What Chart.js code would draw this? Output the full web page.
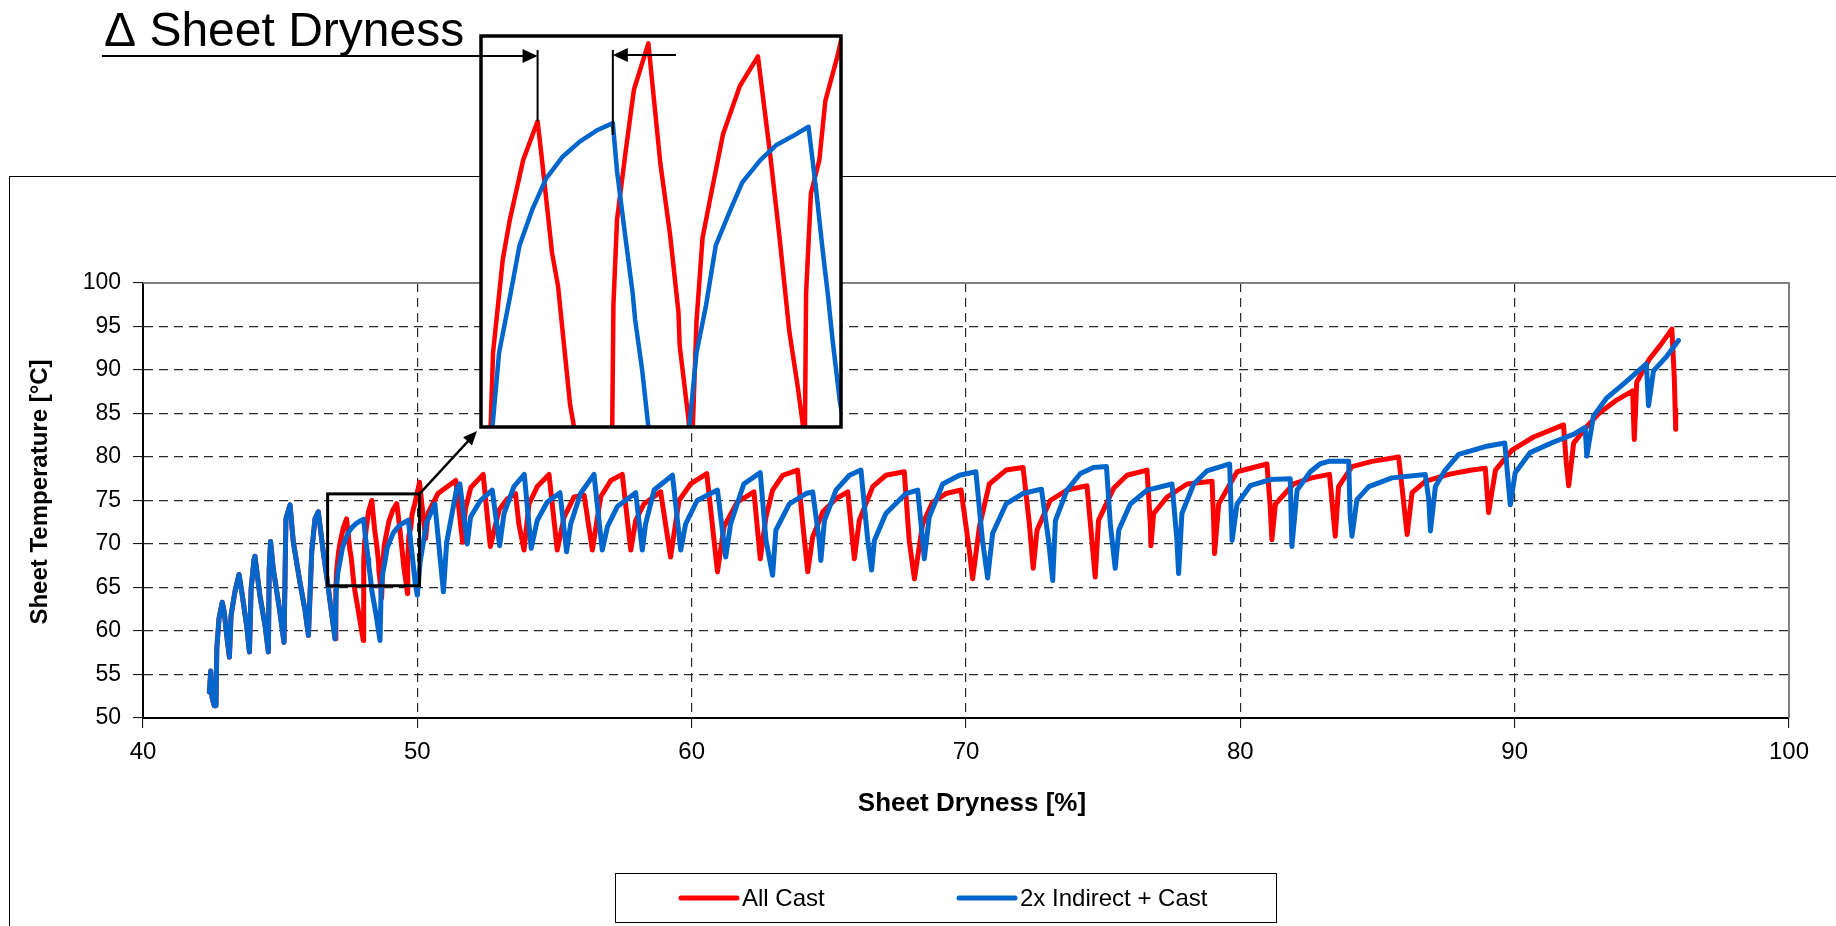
<!DOCTYPE html>
<html>
<head>
<meta charset="utf-8">
<title>Sheet Temperature vs Sheet Dryness</title>
<script src="https://cdn.jsdelivr.net/npm/chart.js@4.4.1/dist/chart.umd.min.js"></script>
<style>
  html, body { margin: 0; padding: 0; background: #fff; }
  #wrap { position: relative; width: 1836px; height: 926px; overflow: hidden; }
  #wrap canvas { position: absolute; left: 0; top: 0; }
</style>
</head>
<body>
<div id="wrap">
  <canvas id="mainChart" width="1836" height="926"></canvas>
  <canvas id="zoomChart" width="1836" height="926"></canvas>
</div>
<script>
// axis ticks
const drynessTicks = [40, 50, 60, 70, 80, 90, 100];
const tempTicks = [50, 55, 60, 65, 70, 75, 80, 85, 90, 95, 100];

// [sheet dryness %, sheet temperature °C] - both runs follow the same path at first
const bothStart = [
  [42.42, 53.0], [42.47, 55.4], [42.52, 52.3], [42.6, 51.4], [42.66, 51.4], [42.69, 58.0],
  [42.77, 61.4], [42.89, 63.3], [42.96, 62.2], [43.05, 59.5], [43.15, 57.0], [43.21, 61.8],
  [43.35, 64.5], [43.5, 66.5], [43.6, 64.5], [43.78, 60.6], [43.88, 57.6], [43.94, 64.8],
  [44.05, 68.3], [44.08, 68.6], [44.26, 64.1], [44.45, 60.6], [44.57, 57.6], [44.6, 67.1],
  [44.65, 70.3], [44.75, 67.1], [44.99, 62.2], [45.14, 58.7], [45.21, 72.9], [45.36, 74.5],
  [45.48, 70.2], [45.72, 65.6], [45.9, 62.5], [46.03, 59.5], [46.15, 69.1], [46.27, 72.9],
  [46.39, 73.7], [46.57, 69.1], [46.76, 64.8], [47.0, 59.1]
];

const allCast = [
  [47.03, 64.65], [47.05, 66.65], [47.13, 69.15], [47.19, 70.25], [47.3, 71.85], [47.42, 72.9],
  [47.45, 72.05], [47.54, 69.35], [47.59, 68.45], [47.69, 65.25], [47.85, 62.3], [48.03, 58.9],
  [48.04, 64.65], [48.05, 67.95], [48.08, 70.25], [48.15, 72.05], [48.22, 73.75], [48.34, 75.0],
  [48.44, 71.75], [48.52, 69.85], [48.59, 67.75], [48.6, 66.85], [48.67, 64.95], [48.7, 63.8],
  [48.74, 67.5], [48.79, 69.75], [48.85, 70.75], [48.96, 72.55], [49.1, 73.85], [49.25, 74.65],
  [49.35, 72.05], [49.43, 69.75], [49.51, 67.25], [49.58, 65.75], [49.64, 64.3],
  [49.65, 68.25], [49.69, 70.95], [49.76, 71.85], [49.81, 73.45], [49.91, 74.65], [50.08, 77.1],
  [50.3, 70.6], [50.4, 73.6], [50.75, 75.8], [51.4, 77.3], [51.65, 70.2],
  [51.75, 74.0], [51.95, 76.5], [52.4, 78.0], [52.66, 69.7],
  [52.98, 73.9], [53.28, 75.2], [53.58, 75.8], [53.7, 72.3], [53.89, 69.3],
  [54.07, 74.6], [54.37, 76.6], [54.8, 78.0], [55.1, 69.3],
  [55.35, 73.1], [55.71, 75.4], [56.08, 75.6], [56.38, 69.3],
  [56.68, 75.4], [57.05, 77.3], [57.47, 78.0], [57.78, 69.3],
  [57.96, 72.7], [58.26, 74.6], [58.87, 76.0], [59.23, 68.5],
  [59.54, 75.0], [59.96, 76.9], [60.55, 78.1], [60.94, 66.8],
  [61.18, 72.0], [61.66, 74.8], [62.27, 76.0], [62.5, 68.3],
  [62.71, 73.1], [62.95, 76.2], [63.32, 77.9], [63.86, 78.5], [64.05, 72.3], [64.23, 66.8],
  [64.41, 70.8], [64.78, 73.7], [65.26, 75.2], [65.69, 76.0], [65.93, 68.3],
  [66.11, 72.7], [66.6, 76.6], [67.08, 77.9], [67.75, 78.3], [67.93, 70.4], [68.12, 66.0],
  [68.42, 72.3], [68.78, 74.8], [69.27, 75.8], [69.82, 76.2], [70.12, 69.3], [70.24, 66.0],
  [70.49, 72.0], [70.85, 76.9], [71.46, 78.5], [72.08, 78.8], [72.31, 72.3], [72.45, 67.2],
  [72.59, 71.6], [73.07, 75.0], [73.68, 76.2], [74.41, 76.7], [74.59, 70.4], [74.71, 66.2],
  [74.83, 72.7], [75.38, 76.4], [75.87, 77.9], [76.6, 78.5], [76.72, 72.3], [76.74, 69.8],
  [76.84, 73.5], [77.33, 75.4], [78.06, 76.9], [78.97, 77.2], [79.03, 72.3], [79.06, 68.9],
  [79.21, 74.6], [79.88, 78.3], [80.97, 79.2], [81.09, 74.3], [81.15, 70.5],
  [81.28, 74.6], [81.94, 76.9], [82.6, 77.6], [83.25, 78.0], [83.46, 70.9],
  [83.58, 76.6], [84.07, 78.9], [84.8, 79.5], [85.77, 80.0], [85.89, 76.6], [86.08, 71.1],
  [86.26, 75.9], [86.74, 77.2], [87.59, 78.0], [88.44, 78.5], [88.93, 78.7], [89.05, 73.6],
  [89.3, 78.5], [89.9, 80.8], [90.69, 82.3], [91.4, 83.2], [91.78, 83.7], [91.88, 79.4], [91.97, 76.7],
  [92.15, 81.6], [92.6, 83.4], [93.1, 85.1], [93.7, 86.5], [94.3, 87.6], [94.36, 82.0],
  [94.45, 88.6], [94.9, 91.2], [95.3, 92.8], [95.73, 94.7], [95.82, 89.0], [95.85, 85.5], [95.87, 83.2]
];

const indirectCast = [
  [47.045, 64.65], [47.1, 66.65], [47.19, 68.15], [47.27, 69.55], [47.38, 70.55], [47.49, 71.35],
  [47.63, 71.95], [47.77, 72.35], [47.91, 72.65], [48.045, 72.85],
  [48.08, 71.55], [48.15, 69.75], [48.21, 68.25], [48.23, 67.55], [48.29, 66.15], [48.34, 64.65],
  [48.5, 61.8], [48.64, 58.9],
  [48.68, 64.65], [48.74, 66.65], [48.82, 67.95], [48.9, 69.55], [49.01, 70.42], [49.12, 71.25],
  [49.27, 71.85], [49.4, 72.25], [49.54, 72.5], [49.67, 72.75],
  [49.73, 71.15], [49.79, 69.35], [49.83, 68.25], [49.87, 67.0], [49.93, 65.35], [50.0, 64.1],
  [50.1, 67.9], [50.34, 72.5], [50.64, 74.6], [50.95, 64.5],
  [51.07, 70.2], [51.43, 76.3], [51.55, 76.9], [51.82, 70.0],
  [51.94, 73.1], [52.3, 75.0], [52.73, 76.2], [53.0, 69.8],
  [53.16, 73.5], [53.52, 76.6], [53.9, 78.0], [54.15, 69.5],
  [54.37, 72.7], [54.73, 74.8], [55.2, 75.9], [55.44, 69.1],
  [55.59, 72.3], [55.95, 75.8], [56.44, 78.0], [56.74, 69.3],
  [56.93, 72.0], [57.29, 74.3], [57.96, 75.9], [58.2, 69.3],
  [58.32, 72.3], [58.63, 76.2], [59.3, 77.9], [59.6, 69.3],
  [59.78, 72.3], [60.2, 75.0], [60.94, 76.2], [61.24, 68.5],
  [61.42, 72.3], [61.9, 76.9], [62.5, 78.2], [62.71, 70.4], [62.95, 66.4],
  [63.07, 71.6], [63.56, 74.6], [64.17, 75.8], [64.41, 76.0], [64.65, 70.4], [64.71, 68.1],
  [64.84, 72.7], [65.26, 76.2], [65.75, 77.9], [66.17, 78.5], [66.42, 70.4], [66.56, 67.0],
  [66.66, 70.4], [67.08, 73.5], [67.81, 75.8], [68.24, 76.2], [68.42, 70.4], [68.48, 68.3],
  [68.66, 73.1], [69.15, 76.9], [69.76, 77.9], [70.36, 78.3], [70.6, 70.4], [70.79, 66.1],
  [70.97, 71.2], [71.46, 74.6], [72.07, 75.8], [72.75, 76.3], [73.01, 70.4], [73.16, 65.8],
  [73.26, 72.7], [73.68, 76.2], [74.17, 78.1], [74.65, 78.8], [75.12, 78.9], [75.26, 72.3], [75.44, 67.2],
  [75.57, 71.6], [75.99, 74.6], [76.6, 76.2], [77.51, 76.9], [77.69, 70.4], [77.75, 66.6],
  [77.87, 73.5], [78.3, 76.9], [78.78, 78.4], [79.61, 79.2], [79.7, 70.4],
  [79.88, 74.6], [80.36, 76.7], [81.09, 77.4], [81.82, 77.5], [81.88, 69.7],
  [82.07, 76.2], [82.55, 78.3], [82.9, 79.2], [83.22, 79.5], [83.95, 79.5], [84.0, 73.6], [84.07, 70.9],
  [84.25, 75.1], [84.68, 76.6], [85.53, 77.6], [86.74, 78.0], [86.87, 75.1], [86.93, 71.5],
  [87.11, 76.6], [87.47, 78.5], [87.96, 80.3], [88.93, 81.2], [89.64, 81.6], [89.78, 76.6], [89.84, 74.5],
  [90.02, 78.2], [90.56, 80.5], [91.4, 81.7], [92.14, 82.6], [92.57, 83.4], [92.63, 80.1],
  [92.87, 84.7], [93.36, 86.8], [93.97, 88.4], [94.8, 90.7], [94.88, 85.9],
  [95.06, 89.9], [95.55, 91.6], [95.97, 93.4]
];

// the two peaks marked in the magnified view
const redPeak = [47.42, 72.9];
const bluePeak = [48.045, 72.85];

const FONT = "'Liberation Sans', Arial, Helvetica, sans-serif";
const RED = '#ff0000';
const BLUE = '#0066cc';
const GRID = '#2a2a2a';

// magnified region: box drawn on the main chart, and the inset's own window
const boxOnMain = { x1: 46.73, x2: 50.08, y1: 65.2, y2: 75.76 };
const insetRange = { xmin: 46.95, xmax: 49.94, ymin: 64.65, ymax: 75.2 };
const insetBox = { left: 481, top: 36, right: 841, bottom: 427 };

Chart.defaults.font.family = FONT;

function toPoints(list) {
  return list.map(p => ({ x: p[0], y: p[1] }));
}

const redPoints = toPoints(bothStart.concat(allCast));
const bluePoints = toPoints(bothStart.concat(indirectCast));

function lineSet(label, pts, color, order, width) {
  return {
    label: label,
    data: pts,
    borderColor: color,
    backgroundColor: color,
    borderWidth: width,
    showLine: true,
    pointRadius: 0,
    borderJoinStyle: 'round',
    borderCapStyle: 'round',
    tension: 0,
    order: order
  };
}

function arrowHead(ctx, x, y, dir, len, half) {
  // dir: 1 points right, -1 points left, otherwise angle in radians
  ctx.save();
  ctx.translate(x, y);
  if (dir === 1) ctx.rotate(0);
  else if (dir === -1) ctx.rotate(Math.PI);
  else ctx.rotate(dir);
  ctx.beginPath();
  ctx.moveTo(0, 0);
  ctx.lineTo(-len, -half);
  ctx.lineTo(-len, half);
  ctx.closePath();
  ctx.fill();
  ctx.restore();
}

const mainFrame = {
  id: 'mainFrame',
  beforeDraw(chart) {
    const ctx = chart.ctx;
    ctx.save();
    ctx.fillStyle = '#fff';
    ctx.fillRect(0, 0, chart.width, chart.height);
    ctx.strokeStyle = '#000';
    ctx.lineWidth = 1;
    ctx.strokeRect(9.5, 176.5, 2000, 1000);
    ctx.restore();
  },
  beforeDatasetsDraw(chart) {
    const ctx = chart.ctx;
    const a = chart.chartArea;
    ctx.save();
    ctx.strokeStyle = '#808080';
    ctx.lineWidth = 2;
    ctx.beginPath();
    ctx.moveTo(a.left, a.top);
    ctx.lineTo(a.right, a.top);
    ctx.lineTo(a.right, a.bottom);
    ctx.stroke();

    // axis titles
    ctx.fillStyle = '#000';
    ctx.font = 'bold 26px ' + FONT;
    ctx.textAlign = 'center';
    ctx.textBaseline = 'middle';
    ctx.fillText('Sheet Dryness [%]', 972, 804);
    ctx.translate(40, 492);
    ctx.rotate(-Math.PI / 2);
    ctx.font = 'bold 24px ' + FONT;
    ctx.fillText('Sheet Temperature [°C]', 0, 0);
    ctx.restore();
  },
  afterDraw(chart) {
    const ctx = chart.ctx;
    const xs = chart.scales.x, ys = chart.scales.y;
    ctx.save();
    // box around the magnified region
    const bx1 = xs.getPixelForValue(boxOnMain.x1), bx2 = xs.getPixelForValue(boxOnMain.x2);
    const by1 = ys.getPixelForValue(boxOnMain.y2), by2 = ys.getPixelForValue(boxOnMain.y1);
    ctx.strokeStyle = '#000';
    ctx.lineWidth = 3;
    ctx.strokeRect(bx1, by1, bx2 - bx1, by2 - by1);
    // connector to the inset
    const tx = insetBox.left - 4, ty = insetBox.bottom + 4;
    ctx.lineWidth = 2.5;
    ctx.beginPath();
    ctx.moveTo(bx2, by1);
    ctx.lineTo(tx - 6, ty + 7);
    ctx.stroke();
    ctx.fillStyle = '#000';
    arrowHead(ctx, tx, ty, Math.atan2(ty - by1, tx - bx2), 14, 6);

    // legend
    ctx.strokeStyle = '#000';
    ctx.lineWidth = 1;
    ctx.strokeRect(615.5, 873.5, 661, 49);
    const items = [
      { ds: chart.data.datasets[0], x: 681 },
      { ds: chart.data.datasets[1], x: 959 }
    ];
    ctx.font = '24px ' + FONT;
    ctx.textBaseline = 'middle';
    ctx.textAlign = 'left';
    items.forEach(it => {
      ctx.strokeStyle = it.ds.borderColor;
      ctx.lineWidth = 5;
      ctx.lineCap = 'round';
      ctx.beginPath();
      ctx.moveTo(it.x, 898);
      ctx.lineTo(it.x + 56, 898);
      ctx.stroke();
      ctx.fillStyle = '#000';
      ctx.fillText(it.ds.label, it.x + 61, 899);
    });
    ctx.restore();
  }
};

const mainChart = new Chart(document.getElementById('mainChart'), {
  type: 'scatter',
  data: {
    datasets: [
      lineSet('All Cast', redPoints, RED, 2, 5),
      lineSet('2x Indirect + Cast', bluePoints, BLUE, 1, 5)
    ]
  },
  options: {
    responsive: false,
    animation: false,
    devicePixelRatio: 1,
    events: [],
    layout: { padding: { left: 0, top: 283, right: 47, bottom: 96 } },
    plugins: { legend: { display: false }, tooltip: { enabled: false } },
    scales: {
      x: {
        type: 'linear',
        min: 40,
        max: 100,
        afterBuildTicks: s => { s.ticks = drynessTicks.map(v => ({ value: v })); },
        afterFit: s => { s.height = 112; },
        ticks: { color: '#000', font: { size: 24 }, padding: 10, maxRotation: 0 },
        grid: { color: GRID, lineWidth: 1.2, tickLength: 10, tickColor: '#000', tickWidth: 1 },
        border: { color: '#000', width: 2, dash: [9, 6] },
        title: { display: false }
      },
      y: {
        type: 'linear',
        min: 50,
        max: 100,
        afterBuildTicks: s => { s.ticks = tempTicks.map(v => ({ value: v })); },
        afterFit: s => { s.width = 143; },
        ticks: { color: '#000', font: { size: 23 }, padding: 12 },
        grid: { color: GRID, lineWidth: 1.2, tickLength: 10, tickColor: '#000', tickWidth: 1 },
        border: { color: '#000', width: 2, dash: [9, 6] },
        title: { display: false }
      }
    }
  },
  plugins: [mainFrame]
});

const zoomFrame = {
  id: 'zoomFrame',
  beforeDatasetsDraw(chart) {
    const ctx = chart.ctx;
    const a = chart.chartArea;
    ctx.save();
    ctx.fillStyle = '#fff';
    ctx.fillRect(a.left, a.top, a.right - a.left, a.bottom - a.top);
    ctx.restore();
  },
  afterDraw(chart) {
    const ctx = chart.ctx;
    const a = chart.chartArea;
    const xs = chart.scales.x, ys = chart.scales.y;
    ctx.save();
    ctx.strokeStyle = '#000';
    ctx.lineWidth = 3.5;
    ctx.strokeRect(a.left, a.top, a.right - a.left, a.bottom - a.top);

    // "Δ Sheet Dryness" annotation
    ctx.fillStyle = '#000';
    ctx.font = '48px ' + FONT;
    ctx.textBaseline = 'alphabetic';
    ctx.fillText('Δ Sheet Dryness', 104, 46);

    const rx = xs.getPixelForValue(redPeak[0]);
    const ry = ys.getPixelForValue(redPeak[1]);
    const bx = xs.getPixelForValue(bluePeak[0]);
    const by = ys.getPixelForValue(bluePeak[1]);
    ctx.lineWidth = 2;
    ctx.beginPath();
    ctx.moveTo(102, 56);
    ctx.lineTo(rx - 4, 56);
    ctx.moveTo(rx, 50);
    ctx.lineTo(rx, ry);
    ctx.moveTo(bx, 50);
    ctx.lineTo(bx, by + 12);
    ctx.moveTo(bx + 4, 55);
    ctx.lineTo(676, 55);
    ctx.stroke();
    arrowHead(ctx, rx, 56, 1, 15, 7);
    arrowHead(ctx, bx, 55, -1, 15, 7);
    ctx.restore();
  }
};

const zoomChart = new Chart(document.getElementById('zoomChart'), {
  type: 'scatter',
  data: {
    datasets: [
      Object.assign(lineSet('All Cast', redPoints, RED, 2, 4.5), { clip: 0 }),
      Object.assign(lineSet('2x Indirect + Cast', bluePoints, BLUE, 1, 4.5), { clip: 0 })
    ]
  },
  options: {
    responsive: false,
    animation: false,
    devicePixelRatio: 1,
    events: [],
    layout: {
      padding: {
        left: insetBox.left, top: insetBox.top,
        right: 1836 - insetBox.right, bottom: 926 - insetBox.bottom
      }
    },
    plugins: { legend: { display: false }, tooltip: { enabled: false } },
    scales: {
      x: { type: 'linear', display: false, min: insetRange.xmin, max: insetRange.xmax },
      y: { type: 'linear', display: false, min: insetRange.ymin, max: insetRange.ymax }
    }
  },
  plugins: [zoomFrame]
});
</script>
</body>
</html>
